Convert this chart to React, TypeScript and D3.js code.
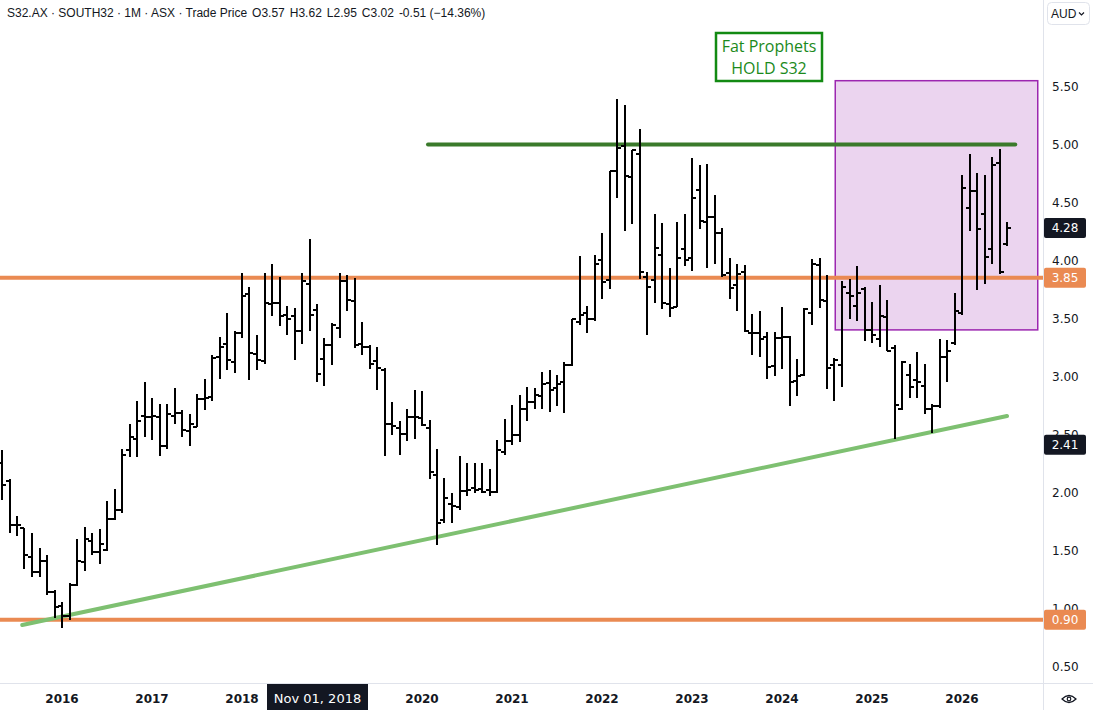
import * as d3 from "d3";

// Monthly OHLC bars, South32 (S32.AX), starting May 2015
const FIRST_MONTH = new Date(2015, 4, 1);

const BARS_2015 = [
  [2.25, 2.36, 1.93, 2.06], [2.1, 2.11, 1.65, 1.72], [1.72, 1.79, 1.62, 1.72], [1.69, 1.69, 1.34, 1.46],
  [1.44, 1.65, 1.27, 1.31], [1.31, 1.52, 1.27, 1.41], [1.41, 1.46, 1.11, 1.14], [1.14, 1.16, 0.91, 1.01],
];
const BARS_2016 = [
  [1.02, 1.05, 0.83, 0.93], [0.93, 1.22, 0.9, 1.2], [1.2, 1.6, 1.19, 1.41], [1.4, 1.7, 1.32, 1.6],
  [1.58, 1.65, 1.46, 1.48], [1.48, 1.68, 1.38, 1.55], [1.5, 1.92, 1.49, 1.77], [1.77, 2.03, 1.76, 1.85],
  [1.85, 2.37, 1.82, 2.32], [2.36, 2.59, 2.3, 2.48], [2.46, 2.79, 2.3, 2.61], [2.66, 2.95, 2.48, 2.65],
];
const BARS_2017 = [
  [2.65, 2.81, 2.45, 2.66], [2.65, 2.76, 2.31, 2.4], [2.4, 2.76, 2.37, 2.67], [2.66, 2.9, 2.59, 2.68],
  [2.68, 2.71, 2.48, 2.54], [2.53, 2.67, 2.4, 2.59], [2.56, 2.85, 2.56, 2.8], [2.8, 2.98, 2.71, 2.81],
  [2.82, 3.18, 2.79, 3.16], [3.17, 3.34, 2.98, 3.25], [3.28, 3.55, 3.05, 3.14], [3.12, 3.39, 3.03, 3.37],
];
const BARS_2018 = [
  [3.37, 3.89, 3.33, 3.69], [3.71, 3.77, 2.97, 3.2], [3.19, 3.36, 3.05, 3.14], [3.13, 3.89, 3.11, 3.63],
  [3.62, 3.97, 3.52, 3.63], [3.63, 3.86, 3.43, 3.52], [3.53, 3.61, 3.36, 3.49], [3.52, 3.59, 3.14, 3.39],
  [3.39, 3.89, 3.28, 3.82], [3.8, 4.18, 3.39, 3.53], [3.57, 3.62, 2.95, 3.02], [3.15, 3.33, 2.92, 3.27],
];
const BARS_2019 = [
  [3.27, 3.46, 3.1, 3.44], [3.42, 3.89, 3.33, 3.82], [3.82, 3.87, 3.56, 3.66], [3.65, 3.85, 3.24, 3.27],
  [3.28, 3.47, 3.18, 3.25], [3.25, 3.27, 3.06, 3.11], [3.13, 3.25, 2.88, 3.07], [3.05, 3.07, 2.31, 2.59],
  [2.59, 2.78, 2.49, 2.57], [2.55, 2.61, 2.32, 2.5], [2.5, 2.72, 2.44, 2.65], [2.65, 2.88, 2.46, 2.65],
];
const BARS_2020 = [
  [2.64, 2.87, 2.57, 2.58], [2.55, 2.62, 2.11, 2.17], [2.15, 2.37, 1.54, 1.73], [1.76, 2.12, 1.73, 1.95],
  [1.9, 1.99, 1.73, 1.88], [1.87, 2.31, 1.85, 2.01], [2.01, 2.25, 1.97, 2.02], [2.04, 2.25, 1.99, 2.02],
  [2.03, 2.25, 1.99, 2.0], [2.02, 2.2, 1.97, 2.0], [2.0, 2.45, 1.99, 2.36], [2.35, 2.63, 2.32, 2.44],
];
const BARS_2021 = [
  [2.44, 2.75, 2.41, 2.49], [2.49, 2.84, 2.43, 2.72], [2.72, 2.91, 2.61, 2.78], [2.78, 2.9, 2.72, 2.84],
  [2.83, 3.04, 2.72, 2.93], [2.94, 3.05, 2.69, 2.88], [2.9, 3.01, 2.74, 2.93], [2.95, 3.12, 2.68, 3.1],
  [3.1, 3.49, 3.09, 3.49], [3.47, 4.04, 3.44, 3.53], [3.55, 3.61, 3.37, 3.49], [3.49, 4.05, 3.48, 3.97],
];
const BARS_2022 = [
  [4.0, 4.24, 3.67, 3.81], [3.83, 4.77, 3.75, 4.77], [4.77, 5.39, 4.54, 4.97], [4.99, 5.34, 4.25, 4.73],
  [4.72, 4.95, 4.31, 4.95], [4.92, 5.13, 3.84, 3.9], [3.86, 3.9, 3.36, 3.77], [3.83, 4.4, 3.63, 4.11],
  [4.05, 4.32, 3.58, 3.63], [3.62, 3.93, 3.51, 3.59], [3.6, 4.33, 3.6, 4.02], [4.1, 4.4, 3.95, 4.0],
];
const BARS_2023 = [
  [4.02, 4.88, 3.91, 4.54], [4.61, 4.82, 4.27, 4.34], [4.33, 4.83, 3.93, 4.37], [4.37, 4.56, 3.97, 4.24],
  [4.24, 4.28, 3.86, 3.87], [3.89, 4.02, 3.67, 3.76], [3.79, 3.97, 3.56, 3.88], [3.9, 3.96, 3.38, 3.39],
  [3.37, 3.54, 3.18, 3.37], [3.37, 3.56, 3.17, 3.32], [3.34, 3.38, 2.98, 3.08], [3.09, 3.38, 3.0, 3.33],
];
const BARS_2024 = [
  [3.33, 3.6, 3.06, 3.34], [3.34, 3.35, 2.74, 2.95], [2.96, 3.15, 2.83, 3.0], [3.01, 3.59, 3.0, 3.58],
  [3.55, 4.01, 3.44, 3.97], [3.96, 4.02, 3.59, 3.66], [3.65, 3.87, 2.89, 3.07], [3.1, 3.16, 2.79, 3.14],
  [3.1, 3.82, 2.91, 3.77], [3.72, 3.84, 3.49, 3.69], [3.61, 3.95, 3.48, 3.72], [3.75, 3.77, 3.3, 3.4],
];
const BARS_2025 = [
  [3.4, 3.64, 3.29, 3.36], [3.32, 3.79, 3.25, 3.52], [3.51, 3.66, 3.22, 3.22], [3.24, 3.27, 2.46, 2.75],
  [2.72, 3.13, 2.71, 3.12], [3.01, 3.11, 2.81, 2.91], [2.97, 3.21, 2.81, 2.95], [2.92, 3.11, 2.67, 2.72],
  [2.72, 2.76, 2.51, 2.74], [2.74, 3.32, 2.73, 3.17], [3.17, 3.31, 2.95, 3.22], [3.29, 3.72, 3.27, 3.56],
];
const BARS_2026 = [
  [3.55, 4.74, 3.53, 4.62], [4.45, 4.92, 4.25, 4.6], [4.6, 4.75, 3.74, 4.27], [4.4, 4.74, 3.8, 4.03],
  [4.1, 4.89, 3.97, 4.82], [4.84, 4.96, 3.88, 3.9], [4.14, 4.33, 4.12, 4.28],
];

// drawn levels (price) and their extent in bar index units
const RESISTANCE = { price: 5.0, from: 56.8, to: 135.1 };
const SUPPORTS = [3.85, 0.9];
const TRENDLINE = [
  { i: 2.7, price: 0.854 },
  { i: 134, price: 2.657 },
];
const ZONE = { from: 111.1, to: 138.1, top: 5.55, bottom: 3.4 };
const LAST_PRICE = 4.28;
const TREND_TAG = 2.41;
const CROSSHAIR = new Date(2018, 10, 1);
const HEADER = "S32.AX · SOUTH32 · 1M · ASX · Trade Price";
const HEADER_OHLC = ["O3.57", "H3.62", "L2.95", "C3.02", "-0.51 (−14.36%)"];
const NOTE = ["Fat Prophets", "HOLD S32"];

const W = 1093;
const H = 710;
const PLOT_R = 1043;
const PLOT_B = 683;
const AXIS_FONT = "'DejaVu Sans', Verdana, sans-serif";
const INK = "#131722";
const ORANGE = "#ea8a52";

export default function App() {
  const bars = [
    ...BARS_2015, ...BARS_2016, ...BARS_2017, ...BARS_2018, ...BARS_2019, ...BARS_2020,
    ...BARS_2021, ...BARS_2022, ...BARS_2023, ...BARS_2024, ...BARS_2025, ...BARS_2026,
  ].map(([o, h, l, c], i) => ({ o, h, l, c, date: d3.timeMonth.offset(FIRST_MONTH, i) }));

  const x = d3.scaleLinear().domain([0, bars.length - 1]).range([2, 1007]);
  const y = d3.scaleLinear().domain([0.5, 5.5]).range([666, 86.5]);

  const crossIdx = bars.findIndex((b) => +b.date === +CROSSHAIR);
  // year labels; the one under the crosshair date box is covered
  const yearTicks = bars
    .map((b, i) => ({ b, i }))
    .filter(({ b, i }) => b.date.getMonth() === 0 && Math.abs(x(i) - x(crossIdx)) > 60);
  const fmt = d3.format(".2f");
  const trend = d3
    .line<{ i: number; price: number }>()
    .x((d) => x(d.i))
    .y((d) => y(d.price));

  const badge = (v: number, fill: string) => (
    <g key={`b${v}`}>
      <rect x={PLOT_R + 1} y={y(v) - 10} width={42} height={20} rx={2} fill={fill} />
      <text x={PLOT_R + 22} y={y(v) + 4.5} textAnchor="middle" fill="#fff" fontSize={12} fontFamily={AXIS_FONT}>
        {fmt(v)}
      </text>
    </g>
  );

  return (
    <svg
      width={W}
      height={H}
      viewBox={`0 0 ${W} ${H}`}
      style={{ position: "absolute", left: 0, top: 0, background: "#fff" }}
    >
      <rect width={W} height={H} fill="#fff" />

      {/* purple zone */}
      <rect
        x={x(ZONE.from)}
        y={y(ZONE.top)}
        width={x(ZONE.to) - x(ZONE.from)}
        height={y(ZONE.bottom) - y(ZONE.top)}
        fill="rgba(156, 39, 176, 0.2)"
        stroke="#9c27b0"
        strokeWidth={1.5}
      />

      {/* levels */}
      {SUPPORTS.map((v) => (
        <line key={v} x1={0} x2={PLOT_R} y1={y(v)} y2={y(v)} stroke={ORANGE} strokeWidth={4} />
      ))}
      <line
        x1={x(RESISTANCE.from)}
        x2={x(RESISTANCE.to)}
        y1={y(RESISTANCE.price)}
        y2={y(RESISTANCE.price)}
        stroke="#3a7a2b"
        strokeWidth={4}
        strokeLinecap="round"
      />
      <path d={trend(TRENDLINE) || ""} stroke="#7ec071" strokeWidth={4} strokeLinecap="round" fill="none" />

      {/* OHLC bars */}
      <g stroke="#000" shapeRendering="crispEdges">
        {bars.map((b, i) => {
          const cx = Math.round(x(i));
          return (
            <g key={i}>
              <line x1={cx} x2={cx} y1={y(b.h)} y2={y(b.l)} strokeWidth={2} />
              <line x1={cx - 4} x2={cx} y1={Math.round(y(b.o))} y2={Math.round(y(b.o))} strokeWidth={1.5} />
              <line x1={cx} x2={cx + 4} y1={Math.round(y(b.c))} y2={Math.round(y(b.c))} strokeWidth={1.5} />
            </g>
          );
        })}
      </g>

      {/* note */}
      <rect x={716} y={33} width={106} height={48} fill="#fff" stroke="#138a13" strokeWidth={2.5} />
      {NOTE.map((t, k) => (
        <text
          key={t}
          x={769}
          y={52 + k * 22}
          textAnchor="middle"
          fontSize={16}
          fill="#1b8a1b"
          fontFamily="'Open Sans', 'Noto Sans', sans-serif"
        >
          {t}
        </text>
      ))}

      {/* header */}
      <text x={7} y={17} fontSize={12} fill={INK} fontFamily="'Liberation Sans', Arial, sans-serif">
        {HEADER}
        {HEADER_OHLC.map((t) => (
          <tspan key={t} dx={5}>{t}</tspan>
        ))}
      </text>

      {/* axis frame */}
      <rect x={PLOT_R} y={0} width={W - PLOT_R} height={H} fill="#fff" />
      <line x1={PLOT_R + 0.5} x2={PLOT_R + 0.5} y1={0} y2={H} stroke="#e0e3eb" />
      <line x1={0} x2={W} y1={PLOT_B + 0.5} y2={PLOT_B + 0.5} stroke="#e0e3eb" />

      {/* right axis */}
      {y.ticks(10).map((v) => (
        <text key={v} x={1052} y={y(v) + 4.5} fontSize={12} fill={INK} fontFamily={AXIS_FONT}>
          {fmt(v)}
        </text>
      ))}
      {badge(LAST_PRICE, INK)}
      {SUPPORTS.map((v) => badge(v, ORANGE))}
      {badge(TREND_TAG, INK)}

      {/* AUD selector */}
      <rect x={1047.5} y={2.5} width={42} height={22} rx={4} fill="#fff" stroke="#e0e3eb" />
      <text x={1051} y={18} fontSize={12} fill={INK} fontFamily="'Liberation Sans', Arial, sans-serif">
        AUD
      </text>
      <path d="M1079 12.5 l2.5 2.5 l2.5 -2.5" stroke={INK} strokeWidth={1.2} fill="none" />

      {/* time axis */}
      {yearTicks.map(({ b, i }) => (
        <text
          key={i}
          x={x(i)}
          y={703}
          textAnchor="middle"
          fontSize={12}
          fontWeight="bold"
          fill={INK}
          fontFamily={AXIS_FONT}
        >
          {b.date.getFullYear()}
        </text>
      ))}
      <rect x={x(crossIdx) - 50} y={PLOT_B + 1} width={101} height={H - PLOT_B} fill={INK} />
      <text
        x={x(crossIdx) + 0.5}
        y={703}
        textAnchor="middle"
        fontSize={13}
        fill="#fff"
        fontFamily={AXIS_FONT}
      >
        {d3.timeFormat("%b %d, %Y")(CROSSHAIR)}
      </text>

      {/* eye icon */}
      <path d="M1062 699 q7 -7 14 0 q-7 7 -14 0 z" stroke={INK} strokeWidth={1.2} fill="none" />
      <circle cx={1069} cy={699} r={1.8} fill="none" stroke={INK} strokeWidth={1.2} />
    </svg>
  );
}
